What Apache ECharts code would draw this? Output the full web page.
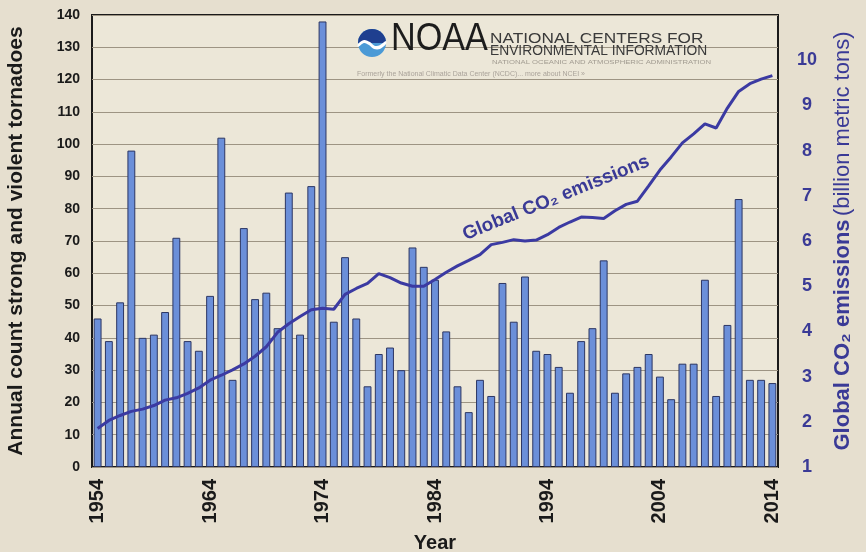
<!DOCTYPE html>
<html>
<head>
<meta charset="utf-8">
<script src="https://cdn.jsdelivr.net/npm/echarts@6/dist/echarts.min.js"></script>
<style>
html,body{margin:0;padding:0;background:#e6dfcf;}
#chart{width:866px;height:552px;}
</style>
</head>
<body>
<div id="chart"></div>
<script>
const years = ['1954','1955','1956','1957','1958','1959','1960','1961','1962','1963',
  '1964','1965','1966','1967','1968','1969','1970','1971','1972','1973',
  '1974','1975','1976','1977','1978','1979','1980','1981','1982','1983',
  '1984','1985','1986','1987','1988','1989','1990','1991','1992','1993',
  '1994','1995','1996','1997','1998','1999','2000','2001','2002','2003',
  '2004','2005','2006','2007','2008','2009','2010','2011','2012','2013','2014'];

const tornadoes = [46,39,51,98,40,41,48,71,39,36,
  53,102,27,74,52,54,43,85,41,87,
  138,45,65,46,25,35,37,30,68,62,
  58,42,25,17,27,22,57,45,59,36,
  35,31,23,39,43,64,23,29,31,35,
  28,21,32,32,58,22,44,83,27,27,26];

const co2 = [1.85,2.03,2.14,2.23,2.28,2.36,2.48,2.53,2.63,2.75,
  2.92,3.03,3.15,3.28,3.45,3.66,3.98,4.17,4.33,4.48,
  4.51,4.49,4.82,4.95,5.06,5.28,5.19,5.07,5.00,5.00,
  5.15,5.31,5.45,5.57,5.70,5.92,5.97,6.03,6.00,6.02,
  6.14,6.30,6.42,6.53,6.52,6.50,6.67,6.81,6.88,7.22,
  7.57,7.86,8.17,8.37,8.59,8.50,8.94,9.31,9.48,9.58,9.66];

const FONT = 'Liberation Sans, Arial, sans-serif';
const NAVY = '#3a3a96';

const chart = echarts.init(document.getElementById('chart'), null, {renderer:'canvas'});
chart.setOption({
  backgroundColor: '#e6dfcf',
  animation: false,
  textStyle: {fontFamily: FONT},
  grid: {left: 92, right: 88, top: 15, bottom: 85, show: true, outerBoundsMode: 'none', containLabel: false,
    borderColor: '#1a1a1a', borderWidth: 2, backgroundColor: '#ece7d8'},
  xAxis: {
    type: 'category', data: years,
    axisLine: {show: false}, axisTick: {show: false},
    axisLabel: {interval: 9, rotate: 90, fontSize: 20, fontWeight: 'bold', color: '#1a1a1a', margin: 12, fontFamily: FONT},
    name: 'Year', nameLocation: 'middle', nameGap: 66,
    nameTextStyle: {fontSize: 20, fontWeight: 'bold', color: '#1a1a1a', fontFamily: FONT}
  },
  yAxis: [{
    type: 'value', min: 0, max: 140, interval: 10,
    axisLine: {show: false}, axisTick: {show: false},
    axisLabel: {fontSize: 14, fontWeight: 'bold', color: '#1a1a1a', margin: 12, fontFamily: FONT},
    splitLine: {lineStyle: {color: '#9d9483', width: 1}},
    name: 'Annual count strong and violent tornadoes', nameLocation: 'middle', nameGap: 65, nameRotate: 90,
    nameTextStyle: {fontSize: 21, fontWeight: 'bold', color: '#1a1a1a', fontFamily: FONT}
  }, {
    type: 'value', min: 1, max: 11, interval: 1, position: 'right',
    axisLine: {show: false}, axisTick: {show: false}, splitLine: {show: false},
    axisLabel: {fontSize: 18, fontWeight: 'bold', color: NAVY, margin: 29, align: 'center', fontFamily: FONT,
      formatter: v => v === 11 ? '' : String(v)},
    name: '{b|Global CO₂ emissions} {n|(billion metric tons)}', nameLocation: 'middle', nameGap: 54, nameRotate: 90,
    nameTextStyle: {rich: {
      b: {fontSize: 22, fontWeight: 'bold', color: NAVY, fontFamily: FONT},
      n: {fontSize: 22, fontWeight: 'normal', color: NAVY, fontFamily: FONT}
    }}
  }],
  series: [{
    type: 'bar', data: tornadoes, yAxisIndex: 0, barCategoryGap: '30%',
    itemStyle: {color: '#6b8fd9', borderColor: '#2c3663', borderWidth: 1}
  }, {
    type: 'line', data: co2, yAxisIndex: 1, symbol: 'none', smooth: false,
    lineStyle: {color: '#3b3aa2', width: 3}, z: 5
  }],
  graphic: [
    {type: 'circle', shape: {cx: 372, cy: 43, r: 14}, style: {fill: '#4b9ad6'}, z: 10},
    {type: 'sector', shape: {cx: 372, cy: 43, r: 14, r0: 0, startAngle: Math.PI, endAngle: 2 * Math.PI}, style: {fill: '#1f3f8f'}, z: 11},
    {type: 'polygon', shape: {points: [[358,44],[364,40],[370,42],[375,46],[380,45],[386,41],[386,44],[380,49],[374,49],[369,45],[364,43],[358,47]], smooth: 0.3}, style: {fill: '#ffffff'}, z: 12},
    {type: 'text', x: 391, y: 59, scaleX: 0.9, style: {text: 'NOAA', fontSize: 38, fontFamily: FONT, fill: '#1c1c1c', textVerticalAlign: 'bottom'}, z: 10},
    {type: 'text', x: 490, y: 46, scaleX: 1.15, style: {text: 'NATIONAL CENTERS FOR', fontSize: 15, fontFamily: FONT, fill: '#3a3a3a', textVerticalAlign: 'bottom'}, z: 10},
    {type: 'text', x: 490, y: 58, scaleX: 0.92, style: {text: 'ENVIRONMENTAL INFORMATION', fontSize: 15, fontFamily: FONT, fill: '#3a3a3a', textVerticalAlign: 'bottom'}, z: 10},
    {type: 'text', x: 492, y: 65, scaleX: 1.4, style: {text: 'NATIONAL OCEANIC AND ATMOSPHERIC ADMINISTRATION', fontSize: 5.5, fontFamily: FONT, fill: '#a09a90', textVerticalAlign: 'bottom'}, z: 10},
    {type: 'text', x: 357, y: 78, style: {text: 'Formerly the National Climatic Data Center (NCDC)... more about NCEI »', fontSize: 7, fontFamily: FONT, fill: '#aaa39a', textVerticalAlign: 'bottom'}, z: 10},
    {type: 'text', x: 556, y: 198, rotation: 22 * Math.PI / 180,
      style: {text: 'Global CO₂ emissions', fontSize: 19, fontWeight: 'bold', fontFamily: FONT, fill: NAVY, textAlign: 'center', textVerticalAlign: 'middle'}, z: 10}
  ]
});
</script>
</body>
</html>
